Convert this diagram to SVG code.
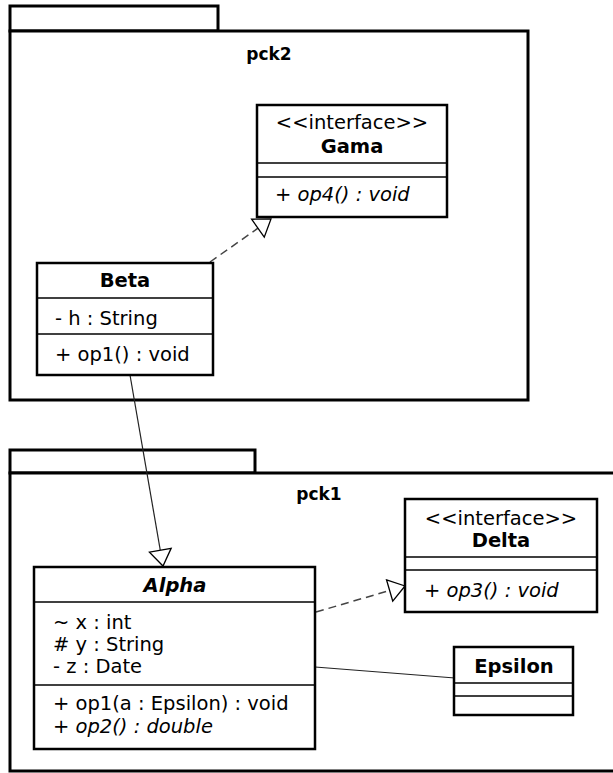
<svg xmlns="http://www.w3.org/2000/svg" width="613" height="773" viewBox="0 0 613 773">
  <style>
    text { font-family: "DejaVu Sans", "Liberation Sans", sans-serif; font-size: 19.5px; fill: #000; }
    .title { font-weight: bold; text-anchor: middle; }
    .pkgname { font-weight: bold; text-anchor: middle; font-size: 17px; }
    .stereo { text-anchor: middle; }
    .ital { font-style: italic; }
    .pkg { fill: #fff; stroke: #000; stroke-width: 3; }
    .box { fill: #fff; stroke: #000; stroke-width: 2.5; }
    .sep { stroke: #000; stroke-width: 1.5; }
    .link { fill: none; stroke: #222; stroke-width: 1.2; }
    .dash { stroke-dasharray: 8 5; stroke: #444; stroke-width: 1.5; }
  </style>
  <defs>
    <marker id="hollow" markerUnits="userSpaceOnUse" markerWidth="20" markerHeight="24" refX="17" refY="11" orient="auto" overflow="visible">
      <path d="M1,0 L17,11 L1,22 Z" fill="#fff" stroke="#000" stroke-width="1.3"/>
    </marker>
  </defs>

  <rect width="613" height="773" fill="#fff"/>

  <!-- packages -->
  <g id="pck2">
    <rect class="pkg" x="10" y="6" width="208" height="25"/>
    <rect class="pkg" x="10" y="31" width="518" height="369"/>
    <text class="pkgname" x="269" y="60">pck2</text>
  </g>
  <g id="pck1">
    <rect class="pkg" x="10" y="450" width="245" height="23"/>
    <rect class="pkg" x="10" y="473" width="620" height="298"/>
    <text class="pkgname" x="319" y="500">pck1</text>
  </g>

  <!-- connectors -->
  <g id="connectors">
    <path class="link dash" d="M210,262 L271,219" marker-end="url(#hollow)"/>
    <path class="link" d="M130,375 L163,566" marker-end="url(#hollow)"/>
    <path class="link dash" d="M316,612 L405,586" marker-end="url(#hollow)"/>
    <path class="link" d="M315,667 L455,678"/>
  </g>

  <!-- classes -->
  <g id="Gama">
    <rect class="box" x="257" y="105" width="190" height="112"/>
    <line class="sep" x1="257" y1="163" x2="447" y2="163"/>
    <line class="sep" x1="257" y1="177" x2="447" y2="177"/>
    <text class="stereo" x="352" y="129">&lt;&lt;interface&gt;&gt;</text>
    <text class="title" x="352" y="153">Gama</text>
    <text class="ital" x="275" y="201">+ op4() : void</text>
  </g>

  <g id="Beta">
    <rect class="box" x="37" y="263" width="176" height="112"/>
    <line class="sep" x1="37" y1="298" x2="213" y2="298"/>
    <line class="sep" x1="37" y1="334" x2="213" y2="334"/>
    <text class="title" x="125" y="287">Beta</text>
    <text x="55" y="325">- h : String</text>
    <text x="55" y="361">+ op1() : void</text>
  </g>

  <g id="Delta">
    <rect class="box" x="405" y="499" width="192" height="113"/>
    <line class="sep" x1="405" y1="557" x2="597" y2="557"/>
    <line class="sep" x1="405" y1="570" x2="597" y2="570"/>
    <text class="stereo" x="501" y="525">&lt;&lt;interface&gt;&gt;</text>
    <text class="title" x="501" y="547">Delta</text>
    <text class="ital" x="424" y="597">+ op3() : void</text>
  </g>

  <g id="Alpha">
    <rect class="box" x="34" y="567" width="281" height="182"/>
    <line class="sep" x1="34" y1="602" x2="315" y2="602"/>
    <line class="sep" x1="34" y1="685" x2="315" y2="685"/>
    <text class="title ital" x="175" y="592">Alpha</text>
    <text x="53" y="629">~ x : int</text>
    <text x="53" y="651"># y : String</text>
    <text x="53" y="673">- z : Date</text>
    <text x="53" y="710">+ op1(a : Epsilon) : void</text>
    <text class="ital" x="53" y="733">+ op2() : double</text>
  </g>

  <g id="Epsilon">
    <rect class="box" x="454" y="647" width="119" height="68"/>
    <line class="sep" x1="454" y1="683" x2="573" y2="683"/>
    <line class="sep" x1="454" y1="696" x2="573" y2="696"/>
    <text class="title" x="514" y="673">Epsilon</text>
  </g>
</svg>
